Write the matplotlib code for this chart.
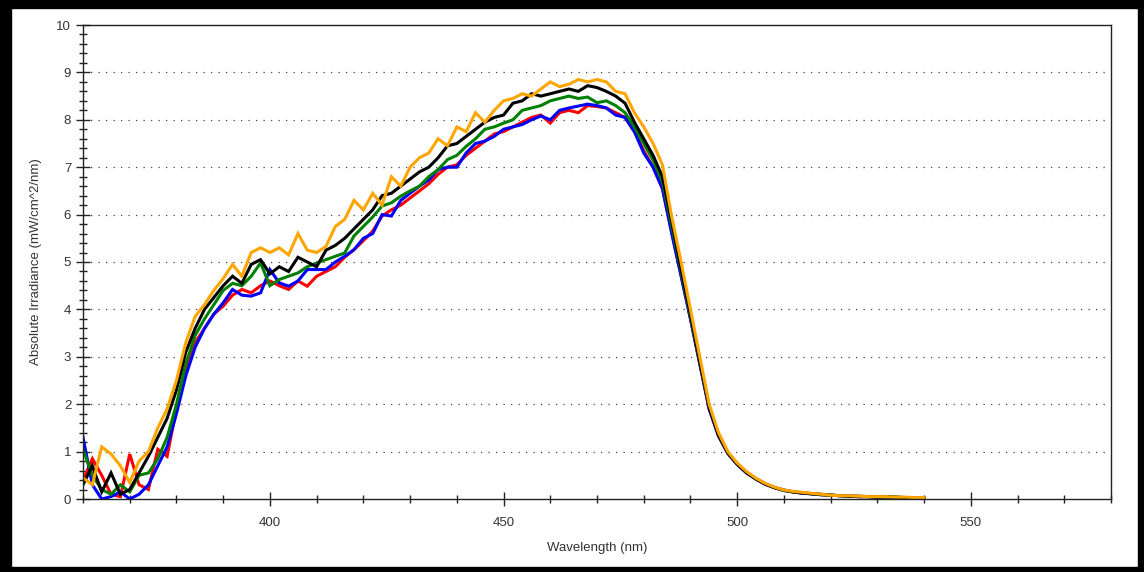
import numpy as np
import matplotlib
matplotlib.use("Agg")
import matplotlib.pyplot as plt
from matplotlib.patches import Rectangle
from matplotlib.ticker import MultipleLocator

plt.rcParams['font.family'] = ['Liberation Sans', 'DejaVu Sans']

# wavelength grid (nm), 2 nm steps
wavelength = np.arange(360, 541, 2)

orange = [0.45, 0.3, 1.1, 0.95, 0.7, 0.35, 0.8, 1.0, 1.5, 1.9,
          2.5, 3.3, 3.85, 4.1, 4.4, 4.65, 4.95, 4.7, 5.2, 5.3,
          5.2, 5.3, 5.15, 5.6, 5.25, 5.2, 5.33, 5.75, 5.9, 6.3,
          6.1, 6.45, 6.2, 6.8, 6.6, 7.0, 7.2, 7.3, 7.6, 7.45,
          7.85, 7.75, 8.15, 7.95, 8.2, 8.4, 8.45, 8.55, 8.5, 8.65,
          8.8, 8.7, 8.75, 8.85, 8.8, 8.85, 8.8, 8.6, 8.55, 8.15,
          7.85, 7.5, 7.05, 5.95, 5.0, 4.0, 3.0, 2.0, 1.4, 1.0,
          0.76, 0.58, 0.44, 0.33, 0.25, 0.19, 0.16, 0.14, 0.12, 0.1,
          0.08, 0.07, 0.07, 0.06, 0.05, 0.05, 0.05, 0.04, 0.04, 0.03,
          0.03]

black = [0.3, 0.7, 0.15, 0.55, 0.1, 0.2, 0.55, 0.9, 1.3, 1.7,
         2.3, 3.1, 3.6, 4.0, 4.25, 4.5, 4.7, 4.55, 4.95, 5.05,
         4.75, 4.9, 4.8, 5.1, 5.0, 4.9, 5.25, 5.35, 5.5, 5.7,
         5.9, 6.1, 6.4, 6.45, 6.6, 6.75, 6.9, 7.0, 7.2, 7.45,
         7.5, 7.65, 7.8, 7.95, 8.05, 8.1, 8.35, 8.4, 8.55, 8.5,
         8.55, 8.6, 8.65, 8.6, 8.72, 8.68, 8.6, 8.5, 8.35, 7.95,
         7.6, 7.25, 6.8, 5.85, 4.85, 3.9, 2.9, 1.95, 1.35, 0.98,
         0.74, 0.56, 0.43, 0.32, 0.24, 0.19, 0.15, 0.13, 0.11, 0.1,
         0.08, 0.07, 0.06, 0.06, 0.05, 0.04, 0.05, 0.04, 0.03, 0.03,
         0.03]

green = [1.05, 0.5, 0.2, 0.1, 0.3, 0.15, 0.5, 0.55, 0.85, 1.3,
         2.0, 2.85, 3.45, 3.8, 4.1, 4.4, 4.55, 4.5, 4.7, 4.98,
         4.5, 4.63, 4.7, 4.77, 4.9, 4.98, 5.05, 5.12, 5.19, 5.55,
         5.75, 5.95, 6.18, 6.25, 6.39, 6.5, 6.6, 6.8, 6.95, 7.16,
         7.25, 7.44, 7.6, 7.8, 7.85, 7.93, 8.0, 8.2, 8.25, 8.3,
         8.4, 8.45, 8.5, 8.45, 8.48, 8.36, 8.4, 8.3, 8.15, 7.85,
         7.5, 7.15, 6.7, 5.75, 4.8, 3.85, 2.88, 1.95, 1.35, 0.97,
         0.74, 0.56, 0.42, 0.32, 0.24, 0.18, 0.15, 0.13, 0.11, 0.09,
         0.08, 0.07, 0.06, 0.05, 0.05, 0.04, 0.04, 0.04, 0.03, 0.03,
         0.03]

blue = [1.3, 0.3, 0.0, 0.05, 0.15, 0.0, 0.1, 0.3, 0.7, 1.1,
        1.8, 2.6, 3.2, 3.6, 3.9, 4.14, 4.42, 4.3, 4.28, 4.35,
        4.84, 4.56, 4.49, 4.6, 4.84, 4.84, 4.84, 5.0, 5.12, 5.26,
        5.5, 5.6, 6.0, 5.97, 6.3, 6.45, 6.6, 6.73, 6.95, 7.0,
        7.0, 7.3, 7.5, 7.55, 7.65, 7.8, 7.85, 7.9, 8.0, 8.08,
        8.0, 8.2, 8.25, 8.29, 8.33, 8.3, 8.25, 8.1, 8.05, 7.75,
        7.3, 7.0, 6.55, 5.6, 4.7, 3.8, 2.85, 1.9, 1.33, 0.96,
        0.73, 0.55, 0.42, 0.31, 0.24, 0.18, 0.15, 0.12, 0.11, 0.09,
        0.08, 0.07, 0.06, 0.05, 0.05, 0.04, 0.04, 0.03, 0.03, 0.03,
        0.02]

red = [0.4, 0.85, 0.5, 0.1, 0.05, 0.95, 0.3, 0.2, 1.05, 0.9,
       1.9, 2.7, 3.3, 3.6, 3.9, 4.07, 4.3, 4.42, 4.35, 4.5,
       4.6, 4.5, 4.42, 4.6, 4.49, 4.7, 4.8, 4.9, 5.1, 5.26,
       5.45, 5.65, 5.97, 6.1, 6.2, 6.35, 6.5, 6.65, 6.85, 7.0,
       7.05, 7.25, 7.4, 7.55, 7.7, 7.75, 7.85, 7.95, 8.05, 8.1,
       7.93, 8.15, 8.2, 8.15, 8.3, 8.28, 8.25, 8.15, 8.05, 7.75,
       7.35, 7.0, 6.55, 5.62, 4.72, 3.8, 2.85, 1.9, 1.33, 0.96,
       0.73, 0.55, 0.42, 0.31, 0.24, 0.18, 0.15, 0.12, 0.11, 0.09,
       0.08, 0.07, 0.06, 0.05, 0.05, 0.04, 0.04, 0.03, 0.03, 0.03,
       0.02]

series = [(red, '#ff0000'), (blue, '#0000ff'), (green, '#008000'),
          (black, '#000000'), (orange, '#ffa500')]

fig = plt.figure(figsize=(11.44, 5.72), dpi=100)
ax = fig.add_axes([83 / 1144, 1 - 499 / 572, (1111 - 83) / 1144, (499 - 25) / 572])

for vals, col in series:
    ax.plot(wavelength, vals, color=col, lw=2.2, solid_joinstyle='miter')

ax.set_xlim(360, 580)
ax.set_ylim(0, 10)
ax.xaxis.set_major_locator(MultipleLocator(50))
ax.xaxis.set_minor_locator(MultipleLocator(10))
ax.yaxis.set_major_locator(MultipleLocator(1))
ax.yaxis.set_minor_locator(MultipleLocator(0.2))
ax.set_xticks([400, 450, 500, 550])
ax.tick_params(which='major', direction='inout', length=10, width=1, color='#222222',
               labelsize=9.5, labelcolor='#333333')
ax.tick_params(which='minor', direction='inout', length=6, width=1, color='#222222')
ax.tick_params(axis='x', pad=8)

for y in range(1, 10):
    ax.axhline(y, color='#444444', lw=0.9, linestyle=(0, (1, 5)), zorder=0)

for s in ax.spines.values():
    s.set_color('#222222')
    s.set_linewidth(1.0)

ax.set_xlabel('Wavelength (nm)', fontsize=9.5, color='#333333', labelpad=9)
ax.set_ylabel('Absolute Irradiance (mW/cm^2/nm)', fontsize=9.5, color='#333333', labelpad=10)

# black frame round the picture
W, H = 1144, 572
for x0, y0, w, h in [(0, 0, 11, H), (W - 6, 0, 6, H), (0, H - 8, W, 8), (0, 0, W, 5)]:
    fig.patches.append(Rectangle((x0 / W, y0 / H), w / W, h / H, transform=fig.transFigure,
                                 color='black', zorder=10))

fig.savefig('out.png', dpi=100)
